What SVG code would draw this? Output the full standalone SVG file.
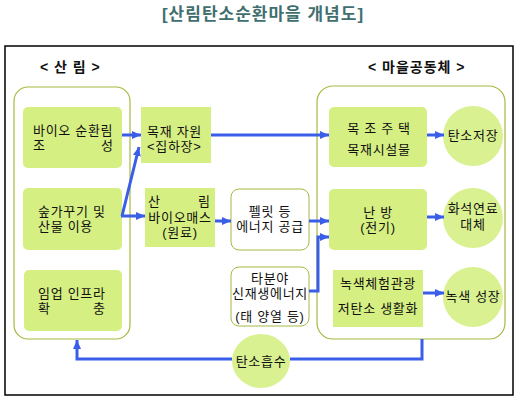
<svg xmlns="http://www.w3.org/2000/svg" width="515" height="400" viewBox="0 0 515 400">
<style>
text{font-family:"Liberation Sans","Noto Sans CJK KR",sans-serif;font-size:13px;fill:#111;letter-spacing:0.7px}
.t{font-size:17px;font-weight:bold;fill:#3f6f6f;text-anchor:middle;letter-spacing:1px}
.h{font-weight:bold;font-size:14px;letter-spacing:1px}
.c{text-anchor:middle}
.g{fill:#d6ef82;stroke:none}
.cir{fill:#d9f190;stroke:none}
.w{fill:#fff;stroke:#a8b840;stroke-width:1}
.big{fill:none;stroke:#a8b840;stroke-width:1.2}
.a{fill:none;stroke:#3b5ee8;stroke-width:3}
</style>
<defs>
<marker id="ah" markerUnits="userSpaceOnUse" markerWidth="10" markerHeight="10" refX="9" refY="5" orient="auto">
<path d="M0,1 L9,5 L0,9 Z" fill="#3b5ee8"/>
</marker>
</defs>
<rect width="515" height="400" fill="#fff"/>
<text class="t" x="263" y="20">[산림탄소순환마을 개념도]</text>
<rect x="5" y="46" width="508" height="349" fill="none" stroke="#000" stroke-width="1.5"/>
<text class="h" x="40" y="72">&lt; 산 림 &gt;</text>
<text class="h" x="368" y="72">&lt; 마을공동체 &gt;</text>

<g id="forest"><rect class="big" x="14" y="87" width="116" height="252" rx="14"/></g>
<g id="village"><rect class="big" x="317" y="86" width="188" height="253" rx="16"/></g>

<g id="n1"><rect class="g" x="23" y="107" width="99" height="61" rx="5"/>
<text x="33" y="135">바이오 순환림</text><text y="150"><tspan x="33">조</tspan><tspan x="101">성</tspan></text></g>
<g id="n2"><rect class="g" x="23" y="188" width="99" height="62" rx="5"/>
<text x="38" y="216">숲가꾸기 및</text><text x="38" y="231">산물 이용</text></g>
<g id="n3"><rect class="g" x="24" y="270" width="98" height="61" rx="5"/>
<text x="38" y="298">임업 인프라</text><text y="313"><tspan x="38">확</tspan><tspan x="93">충</tspan></text></g>

<g id="n4"><rect class="g" x="141" y="107" width="70" height="56"/>
<text x="147" y="136">목재 자원</text><text x="147" y="151">&lt;집하장&gt;</text></g>
<g id="n5"><rect class="g" x="145" y="188" width="70" height="59"/>
<text y="206"><tspan x="148">산</tspan><tspan x="198">림</tspan></text>
<text class="c" x="180" y="222">바이오매스</text><text class="c" x="180" y="237">(원료)</text></g>

<g id="n6"><rect class="w" x="231" y="189" width="78" height="61" rx="8"/>
<text class="c" x="270" y="216">펠릿 등</text><text class="c" x="270" y="231">에너지 공급</text></g>
<g id="n7"><rect class="w" x="231" y="267" width="78" height="59" rx="8"/>
<text class="c" x="270" y="283">타분야</text><text class="c" x="270" y="298">신재생에너지</text><text class="c" x="270" y="321">(태 양열 등)</text></g>

<g id="n8"><rect class="g" x="329" y="107" width="98" height="60" rx="5"/>
<text class="c" x="379" y="133">목 조 주 택</text><text class="c" x="379" y="154">목재시설물</text></g>
<g id="n9"><rect class="g" x="329" y="189" width="98" height="61" rx="5"/>
<text class="c" x="378" y="217">난 방</text><text class="c" x="378" y="232">(전기)</text></g>
<g id="n10"><rect class="g" x="333" y="270" width="90" height="57"/>
<text class="c" x="378" y="288">녹색체험관광</text><text class="c" x="378" y="313">저탄소 생활화</text></g>

<g id="c1"><circle class="cir" cx="473" cy="136" r="30"/><text class="c" x="473" y="140">탄소저장</text></g>
<g id="c2"><circle class="cir" cx="473" cy="218" r="30"/><text class="c" x="473" y="213">화석연료</text><text class="c" x="473" y="229">대체</text></g>
<g id="c3"><circle class="cir" cx="473" cy="297" r="30"/><text class="c" x="473" y="301">녹색 성장</text></g>
<g id="c4"><ellipse class="cir" cx="261" cy="361" rx="29" ry="27"/><text class="c" x="261" y="366">탄소흡수</text></g>

<g id="connectors">
<path class="a" d="M122,135 H141" marker-end="url(#ah)"/>
<path class="a" d="M122,216 L139,147" marker-end="url(#ah)"/>
<path class="a" d="M121,216 H145" marker-end="url(#ah)"/>
<path class="a" d="M211,135 H329" marker-end="url(#ah)"/>
<path class="a" d="M215,221 H231" marker-end="url(#ah)"/>
<path class="a" d="M309,221 H329" marker-end="url(#ah)"/>
<path class="a" d="M309,291 H318 V237 H329" marker-end="url(#ah)"/>
<path class="a" d="M427,135 H444" marker-end="url(#ah)"/>
<path class="a" d="M427,217 H444" marker-end="url(#ah)"/>
<path class="a" d="M423,293 H444" marker-end="url(#ah)"/>
<path class="a" d="M422,339 V359 H290"/>
<path class="a" d="M232,359 H77 V340" marker-end="url(#ah)"/>
</g>
</svg>
